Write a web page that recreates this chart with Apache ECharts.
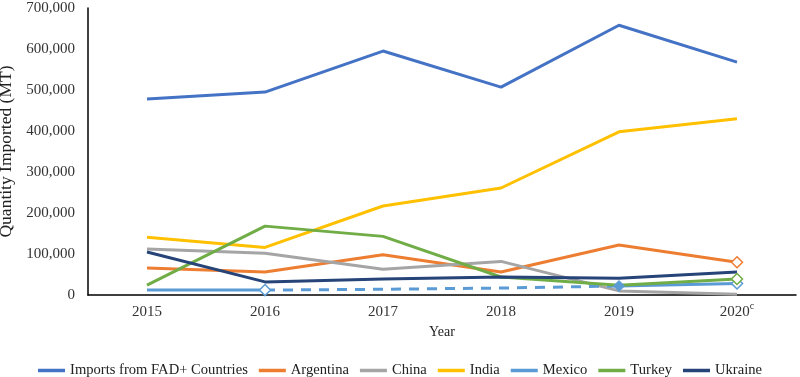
<!DOCTYPE html>
<html><head><meta charset="utf-8">
<script src="https://cdn.jsdelivr.net/npm/echarts@6/dist/echarts.min.js"></script>
<style>html,body{margin:0;padding:0;background:#fff}#c{width:800px;height:377px}</style>
</head><body><div id="c"></div>
<script>
var years = ['2015','2016','2017','2018','2019','2020'];
var fad = [478000, 495000, 595000, 507000, 658000, 568000];
var argentina = [66000, 56000, 98000, 56000, 122000, 80000];
var china = [112000, 102000, 63000, 82000, 10000, 2000];
var india = [141000, 116000, 217000, 261000, 398000, 430000];
var mexicoSolid = [12000, 12000, null, null, 22000, 28000];
var mexicoDashed = [null, 12000, 14000, 17000, 22000, null];
var turkey = [24000, 168000, 143000, 44000, 24000, 39000];
var ukraine = [105000, 32000, 39000, 44000, 41000, 56000];
var yTicks = [0, 100000, 200000, 300000, 400000, 500000, 600000, 700000];

var colors = {fad:'#4472C4', arg:'#ED7D31', china:'#A5A5A5', india:'#FFC000', mex:'#5B9BD5', tur:'#70AD47', ukr:'#264478'};
var font = 'Liberation Serif';

function hollowLast(arr, color){
  return arr.map(function(v,i){
    if(i===arr.length-1) return {value:v, symbol:'diamond', symbolSize:11, itemStyle:{color:'#fff', borderColor:color, borderWidth:1.5}};
    return v;
  });
}
function line(name, data, color, extra){
  var s = {name:name, type:'line', data:data, showSymbol:true, symbol:'none', lineStyle:{width:3, color:color}, itemStyle:{color:color}, z:2};
  for (var k in extra) s[k]=extra[k];
  return s;
}
var mexSolidData = mexicoSolid.map(function(v,i){
  if(i===4) return {value:v, symbol:'diamond', symbolSize:11, itemStyle:{color:colors.mex, borderColor:colors.mex}};
  if(i===5) return {value:v, symbol:'diamond', symbolSize:11, itemStyle:{color:'#fff', borderColor:colors.mex, borderWidth:1.5}};
  return v;
});
var mexDashedData = mexicoDashed.map(function(v,i){
  if(i===1) return {value:v, symbol:'diamond', symbolSize:11, itemStyle:{color:'#fff', borderColor:colors.mex, borderWidth:1.5}};
  return v;
});

var chart = echarts.init(document.getElementById('c'));
chart.setOption({
  animation:false,
  grid:{left:88, right:4, top:8, bottom:82, containLabel:false, outerBoundsMode:'none'},
  legend:{
    top:358, left:'center', itemWidth:27, itemHeight:3.5, itemGap:11, icon:'rect',
    textStyle:{fontFamily:font, fontSize:14.6, color:'#222'},
    data:['Imports from FAD+ Countries','Argentina','China','India','Mexico','Turkey','Ukraine']
  },
  xAxis:{
    type:'category', data:years, boundaryGap:true,
    name:'Year', nameLocation:'middle', nameGap:30,
    nameTextStyle:{fontFamily:font, fontSize:14, color:'#222'},
    axisLine:{lineStyle:{color:'#000', width:1.5}},
    axisTick:{show:false},
    axisLabel:{interval:0, fontFamily:font, fontSize:15, color:'#333', margin:6,
      formatter:function(v){ return v==='2020' ? '{a|2020}{sup|c}' : '{a|' + v + '}'; },
      rich:{a:{fontFamily:font, fontSize:15, lineHeight:22, color:'#333'},
            sup:{fontFamily:font, fontSize:10, lineHeight:10, verticalAlign:'top', color:'#333'}}
    }
  },
  yAxis:{
    type:'value', min:0, max:700000, interval:100000,
    name:'Quantity Imported (MT)', nameLocation:'middle', nameGap:64,
    nameTextStyle:{fontFamily:font, fontSize:17.5, color:'#222'},
    axisLine:{show:true, lineStyle:{color:'#000', width:1.5}},
    axisTick:{show:false},
    splitLine:{show:false},
    axisLabel:{fontFamily:font, fontSize:15, color:'#333', margin:13,
      formatter:function(v){ return yTicks.indexOf(v)>=0 ? v.toLocaleString('en-US') : ''; }}
  },
  series:[
    line('Imports from FAD+ Countries', fad, colors.fad),
    line('Argentina', hollowLast(argentina, colors.arg), colors.arg),
    line('China', china, colors.china),
    line('India', india, colors.india),
    line('Mexico', mexSolidData, colors.mex, {connectNulls:false}),
    line('Mexico ', mexDashedData, colors.mex, {connectNulls:false, lineStyle:{width:3, color:colors.mex, type:[10,8]}}),
    line('Turkey', hollowLast(turkey, colors.tur), colors.tur),
    line('Ukraine', ukraine, colors.ukr)
  ]
});
</script></body></html>
